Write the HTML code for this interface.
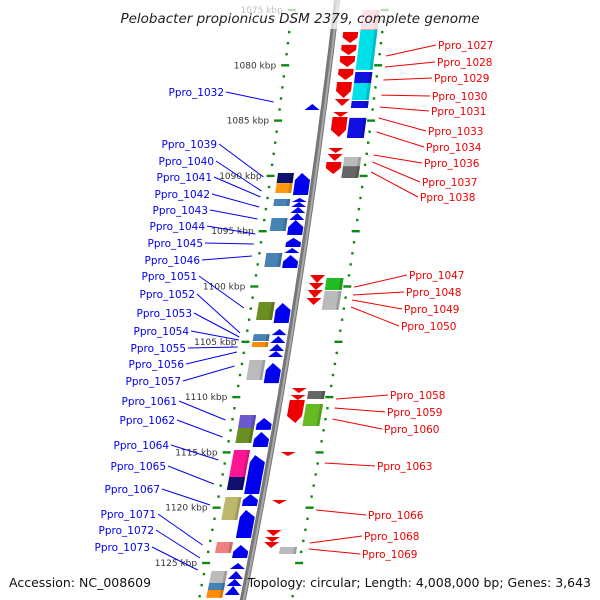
<!DOCTYPE html>
<html><head><meta charset="utf-8"><style>
body{margin:0;background:#fff}
svg{display:block;font-family:"DejaVu Sans","Liberation Sans",sans-serif}
</style></head><body>
<svg id="map" width="600" height="600" viewBox="0 0 600 600" xmlns="http://www.w3.org/2000/svg">
<g id="layer"></g>
</svg>
<script>
// ---- data (kbp) ----
const tickKbp=[1075,1080,1085,1090,1095,1100,1105,1110,1115,1120,1125];
const revArrows=[[1076.99,1077.98],[1078.16,1079.07],[1079.16,1080.15],[1080.33,1081.33],[1081.51,1082.96],[1083.05,1083.68],[1084.22,1084.67],[1084.67,1086.48],[1087.48,1087.93],[1088.02,1088.65],[1088.74,1089.83],[1098.96,1099.68],[1099.68,1100.32],[1100.32,1101.04],[1101.04,1101.67],[1109.18,1109.63],[1109.81,1110.26],[1110.26,1112.34],[1114.96,1115.33],[1119.30,1119.67],[1122.02,1122.56],[1122.65,1123.10],[1123.10,1123.64]];
const revBoxes=[[1075.0,1076.81],[1076.81,1077.98],[1077.98,1079.25],[1079.25,1080.42],[1080.61,1081.60],[1081.60,1083.14],[1083.23,1083.86],[1084.76,1086.57],[1088.29,1089.11],[1089.11,1090.19],[1099.23,1100.32],[1100.41,1101.22],[1101.22,1102.12],[1109.45,1110.17],[1110.62,1112.61],[1123.55,1124.19]];
const revBoxColors=['#f4a0a8','#00e0e8','#00e0e8','#00e0e8','#1010e0','#00e0e8','#1010e0','#1010e0','#bbbbbb','#666666','#22bb22','#bbbbbb','#bbbbbb','#666666','#66bb22','#bbbbbb'];
const fwdArrows=[[1083.50,1084.04],[1089.74,1091.73],[1092.00,1092.36],[1092.36,1092.81],[1092.81,1093.35],[1093.35,1093.99],[1093.99,1095.34],[1095.61,1096.43],[1096.52,1096.97],[1097.15,1098.33],[1101.49,1103.30],[1103.84,1104.39],[1104.48,1105.11],[1105.20,1105.83],[1105.83,1106.37],[1106.92,1108.73],[1111.89,1112.97],[1113.16,1114.51],[1115.24,1118.76],[1118.76,1119.85],[1120.21,1122.74],[1123.37,1124.55],[1125.00,1125.54],[1125.72,1126.45],[1126.45,1127.08],[1127.08,1127.89]];
const fwdBoxes=[[1089.74,1090.65],[1090.65,1091.55],[1092.09,1092.72],[1093.81,1094.98],[1096.97,1098.24],[1101.40,1103.03],[1104.30,1104.93],[1105.02,1105.47],[1106.65,1108.45],[1111.62,1112.79],[1112.79,1114.15],[1114.78,1117.22],[1117.22,1118.40],[1119.03,1121.11],[1123.10,1124.10],[1125.72,1126.81],[1126.81,1127.44],[1127.44,1128.16]];
const fwdBoxColors=['#101070','#ff9910','#4682b4','#4682b4','#4682b4','#6b8e23','#4682b4','#ff8c00','#bbbbbb','#6a5acd','#6b8e23','#ff1493','#101070','#bdb76b','#f08080','#bbbbbb','#4682b4','#ff8c00'];
const revNames=['Ppro_1027','Ppro_1028','Ppro_1029','Ppro_1030','Ppro_1031','Ppro_1033','Ppro_1034','Ppro_1036','Ppro_1037','Ppro_1038','Ppro_1047','Ppro_1048','Ppro_1049','Ppro_1050','Ppro_1058','Ppro_1059','Ppro_1060','Ppro_1063','Ppro_1066','Ppro_1068','Ppro_1069'];
const revAnchor=[1079.16,1080.15,1081.33,1082.69,1083.77,1084.76,1086.03,1088.11,1088.74,1089.65,1100.05,1100.77,1101.22,1101.85,1110.17,1110.99,1111.98,1115.96,1120.21,1123.19,1123.73];
const revLabelY=[49,66,82,100,115,135,151,167,186,201,279,296,313,330,399,416,433,470,519,540,558];
const revLabelX=[438,437,434,432,431,428,426,424,422,420,409,406,404,401,390,387,384,377,368,364,362];
const fwdNames=['Ppro_1032','Ppro_1039','Ppro_1040','Ppro_1041','Ppro_1042','Ppro_1043','Ppro_1044','Ppro_1045','Ppro_1046','Ppro_1051','Ppro_1052','Ppro_1053','Ppro_1054','Ppro_1055','Ppro_1056','Ppro_1057','Ppro_1061','Ppro_1062','Ppro_1064','Ppro_1065','Ppro_1067','Ppro_1071','Ppro_1072','Ppro_1073'];
const fwdAnchor=[1083.32,1090.10,1091.37,1091.91,1092.81,1093.90,1095.25,1096.16,1097.24,1101.94,1104.20,1104.57,1104.84,1105.47,1105.92,1107.19,1112.07,1113.61,1115.69,1117.86,1119.76,1123.37,1124.55,1125.63];
const fwdLabelY=[96,148,165,181,198,214,230,247,264,280,298,317,335,352,368,385,405,424,449,470,493,518,534,551];
const fwdLabelX=[224,217,214,212,210,208,205,203,200,197,195,192,189,186,184,181,177,175,169,166,160,156,154,150];

// ---- scales ----
const NS='http://www.w3.org/2000/svg';
const layer=document.getElementById('layer');
function yOf(k){return 10+(k-1075)*11.06;}
function bx(y){return 337-0.115*y-0.00007*y*y;}
function mk(tag,attrs){const e=document.createElementNS(NS,tag);for(const a in attrs)e.setAttribute(a,attrs[a]);layer.appendChild(e);return e;}
function quad(y1,y2,o1,o2){return [[bx(y1)+o1,y1],[bx(y1)+o2,y1],[bx(y2)+o2,y2],[bx(y2)+o1,y2]].map(p=>p[0].toFixed(1)+','+p[1].toFixed(1)).join(' ');}

// backbone
let bbPath='';for(let y=-5;y<=605;y+=5){bbPath+=(y===-5?'M':'L')+bx(y).toFixed(1)+','+y;}
const bb=mk('path',{d:bbPath,stroke:'#777',"stroke-width":6,fill:'none'});


const bb2=mk('path',{d:bbPath,stroke:'#aaa',"stroke-width":2,fill:'none',transform:'translate(1,0)'});



// dotted scale lines
for(let k=1074;k<=1129;k++){
  const y=yOf(k);const major=(k%5===0);
  [-44,49].forEach(o=>{
    const x=bx(y)+o;
    const t=mk('rect',{x:(major?x-4:x-1.2).toFixed(1),y:(y-1.2).toFixed(1),width:major?8:2.4,height:2.4,fill:'#118811'});
    
    
  });
}
tickKbp.forEach(k=>{
  const y=yOf(k);
  const t=mk('text',{x:(bx(y)-53).toFixed(1),y:(y+3).toFixed(1),"text-anchor":'end',"font-size":9,fill:'#333'});
  t.textContent=k+' kbp';
  
  
});

// boxes
function drawBoxes(arr,cols,o1,o2,nm){
  arr.forEach((g,i)=>{
    const y1=yOf(g[0]),y2=yOf(g[1]);
    const p=mk('polygon',{points:quad(y1,y2,o1,o2),fill:cols[i]});
    
    
    const s=mk('polygon',{points:quad(y1,y2,o2-3,o2),fill:'#000',opacity:0.15});
    
    
  });
}
drawBoxes(revBoxes,revBoxColors,27,44,'reverse-gene-box');
drawBoxes(fwdBoxes,fwdBoxColors,-37,-21,'forward-gene-box');

// arrows
function drawArrows(arr,o1,o2,col,up,nm){
  arr.forEach(g=>{
    const y1=yOf(g[0]),y2=yOf(g[1]);const h=y2-y1;
    let pts;
    const l1=bx(y1),l2=bx(y2),lm=bx((y1+y2)/2);
    if(h<9){
      if(up)pts=[[lm+(o1+o2)/2,y1],[l2+o2,y2],[l2+o1,y2]];
      else pts=[[l1+o1,y1],[l1+o2,y1],[lm+(o1+o2)/2,y2]];
    }else{
      const hd=Math.min(7,h/2);
      if(up){const ym=y1+hd;pts=[[lm+(o1+o2)/2,y1],[bx(ym)+o2,ym],[l2+o2,y2],[l2+o1,y2],[bx(ym)+o1,ym]];}
      else{const ym=y2-hd;pts=[[l1+o1,y1],[l1+o2,y1],[bx(ym)+o2,ym],[lm+(o1+o2)/2,y2],[bx(ym)+o1,ym]];}
    }
    const p=mk('polygon',{points:pts.map(q=>q[0].toFixed(1)+','+q[1].toFixed(1)).join(' '),fill:col});
    
    
  });
}
drawArrows(revArrows,10,25,'#ee0000',false,'reverse-gene-arrow');
drawArrows(fwdArrows,-19,-4,'#0000ee',true,'forward-gene-arrow');

// labels
revNames.forEach((n,i)=>{
  const ay=yOf(revAnchor[i]);
  const l=mk('line',{x1:(bx(ay)+56).toFixed(1),y1:ay.toFixed(1),x2:revLabelX[i]-2,y2:revLabelY[i]-4,stroke:'#ee0000',"stroke-width":1});
  
  
  const t=mk('text',{x:revLabelX[i],y:revLabelY[i],"font-size":10.5,fill:'#ee0000'});
  t.textContent=n;
  
  
});
fwdNames.forEach((n,i)=>{
  const ay=yOf(fwdAnchor[i]);
  const l=mk('line',{x1:fwdLabelX[i]+2,y1:fwdLabelY[i]-4,x2:(bx(ay)-51).toFixed(1),y2:ay.toFixed(1),stroke:'#0000ee',"stroke-width":1});
  
  
  const t=mk('text',{x:fwdLabelX[i],y:fwdLabelY[i],"text-anchor":'end',"font-size":10.5,fill:'#0000ee'});
  t.textContent=n;
  
  
});

// top fade + title
const fadeRect=mk('rect',{x:0,y:0,width:600,height:29,fill:'#fff',opacity:0.7});


const titleText=mk('text',{x:300,y:23,"text-anchor":'middle',"font-size":13.5,"font-style":'italic',fill:'#222'});
titleText.textContent='Pelobacter propionicus DSM 2379, complete genome';



// footer
const fb1=mk('rect',{x:4,y:573,width:150,height:19,fill:'#fff'});


const fb2=mk('rect',{x:258,y:573,width:338,height:19,fill:'#fff'});


const accText=mk('text',{x:9,y:587,"font-size":12.5,fill:'#111'});
accText.textContent='Accession: NC_008609';


const topoText=mk('text',{x:591,y:587,"text-anchor":'end',"font-size":12.5,fill:'#111'});
topoText.textContent='Topology: circular; Length: 4,008,000 bp; Genes: 3,643';


</script>
</body></html>
